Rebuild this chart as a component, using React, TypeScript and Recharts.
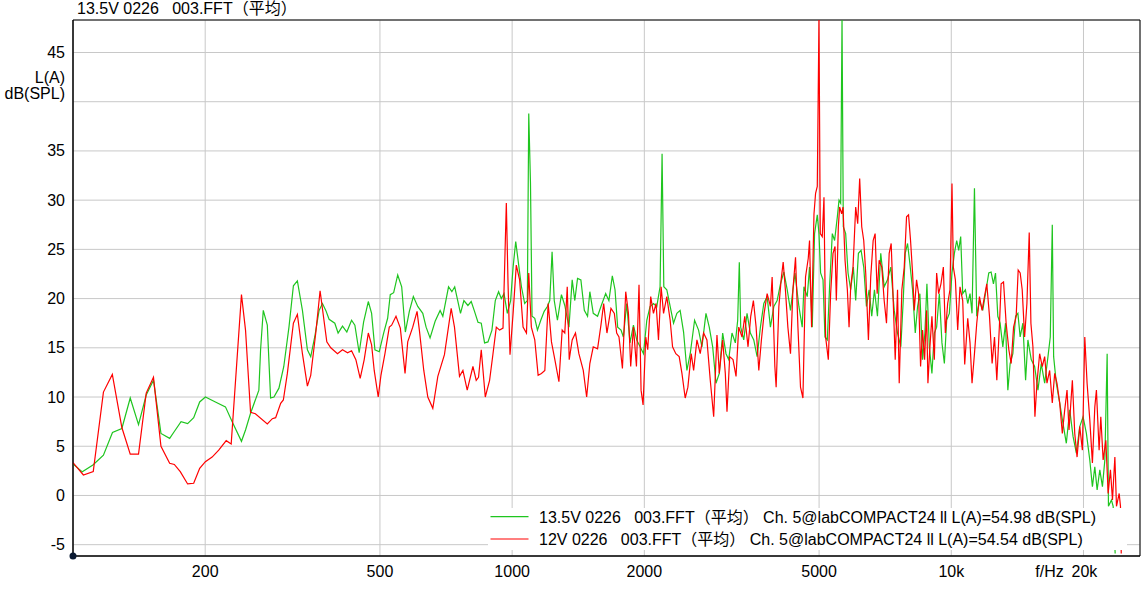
import { CartesianGrid, Line, LineChart, ReferenceArea, ReferenceDot, XAxis, YAxis } from "recharts";

const FONT = '"Liberation Sans", Arial, "Noto Sans CJK SC", sans-serif';

const title = "13.5V 0226   003.FFT（平均）";
const seriesNames = [
  "13.5V 0226   003.FFT（平均） Ch. 5@labCOMPACT24 ll L(A)=54.98 dB(SPL)",
  "12V 0226   003.FFT（平均） Ch. 5@labCOMPACT24 ll L(A)=54.54 dB(SPL)",
];
const seriesColors = ["#1fc51f", "#ff0000"];

const xTicks = [200, 500, 1000, 2000, 5000, 10000, 20000];
const yTicks = [-5, 0, 5, 10, 15, 20, 25, 30, 35, 40, 45];

// 13.5V trace
const greenHz = [
  100, 105, 111, 117.3, 123, 129.2, 135, 141, 146.8, 152.5, 158.6, 166, 170.1, 176.2, 182.4, 188.3, 194.3, 200.2, 211, 222.4,
  230.4, 241.9, 247.1, 253.7, 265, 267.4, 271.2, 277, 281.8, 286.8, 294.4, 302, 310.3, 317.6, 324.3, 333, 341.8, 347.8, 355.2, 363.4,
  369.9, 376.4, 383, 394.6, 401.5, 410.9, 420.3, 430.9, 438.4, 448.4, 458.9, 470.4, 478.6, 487, 498.2, 509.8, 520.6, 527.8, 537.3, 548.8,
  560.4, 571.2, 583.3, 595.7, 609.6, 625.9, 636.9, 650.3, 667.8, 685.4, 695.3, 716.4, 729, 740, 762.8, 776.5, 793, 806.9, 821, 836,
  850.5, 865.4, 881, 899.5, 915.5, 931.4, 944.8, 958.3, 975.1, 992.2, 1005, 1019, 1035, 1050, 1068, 1083, 1091, 1101, 1110, 1126,
  1142, 1162, 1183, 1203, 1218, 1233, 1247, 1268, 1295, 1318, 1347, 1370, 1389, 1409, 1434, 1460, 1485, 1503, 1530, 1565,
  1599, 1633, 1661, 1691, 1715, 1739, 1770, 1792, 1823, 1855, 1889, 1922, 1956, 1991, 2026, 2061, 2098, 2135, 2172, 2195,
  2215, 2250, 2290, 2331, 2372, 2413, 2457, 2500, 2544, 2603, 2658, 2705, 2763, 2811, 2862, 2912, 2963, 3016, 3069, 3113,
  3167, 3223, 3263, 3291, 3315, 3368, 3427, 3487, 3550, 3613, 3676, 3742, 3808, 3874, 3944, 4013, 4084, 4157, 4230, 4304,
  4405, 4498, 4577, 4618, 4699, 4756, 4824, 4883, 4953, 4997, 5040, 5104, 5157, 5220, 5283, 5359, 5424, 5502, 5551, 5599,
  5639, 5677, 5748, 5820, 5901, 5984, 6058, 6145, 6232, 6319, 6409, 6500, 6590, 6684, 6790, 6909, 7034, 7157, 7283, 7414,
  7544, 7676, 7773, 7855, 7951, 8047, 8163, 8279, 8380, 8482, 8603, 8708, 8801, 8912, 9035, 9150, 9261, 9393, 9523, 9644,
  9761, 9900, 10037, 10164, 10288, 10397, 10506, 10618, 10769, 10901, 11033, 11150, 11292, 11429, 11592, 11795, 12002, 12173, 12322, 12475,
  12610, 12764, 12918, 13104, 13291, 13453, 13616, 13811, 14009, 14180, 14351, 14557, 14765, 14945, 15207, 15481, 15752, 16028, 16317, 16603,
  16804, 16983, 17104, 17344, 17656, 17966, 18280, 18609, 18936, 19268, 19614, 19958, 20308, 20673, 20959, 21225, 21484, 21789, 22091, 22371,
  22644, 22799, 23162, 23369, 23615,
];
const greenDb = [
  3.2, 2.4, 3.1, 4.1, 6.4, 6.8, 9.9, 7.2, 10.2, 11.7, 6.3, 5.8, 6.5, 7.5, 7.3, 7.9, 9.5, 10.0, 9.5, 9.0,
  7.5, 5.5, 6.65, 8.35, 10.7, 14.8, 18.8, 17.3, 9.9, 10.0, 10.9, 13.1, 17.1, 21.3, 21.8, 18.8, 14.8, 14.1, 16.1, 18.8,
  19.5, 18.8, 17.9, 17.5, 16.5, 17.2, 16.6, 17.8, 17.3, 14.5, 17.6, 19.7, 18.5, 14.8, 14.6, 16.5, 18.0, 20.4, 20.6, 22.4,
  21.2, 16.6, 18.7, 20.2, 19.2, 18.5, 17.1, 16.0, 17.7, 18.8, 18.2, 21.2, 20.7, 21.2, 18.5, 19.8, 19.3, 19.7, 18.7, 17.6,
  17.5, 15.5, 15.6, 16.8, 19.8, 20.7, 20.0, 20.5, 18.5, 19.8, 23.2, 25.8, 23.4, 21.2, 19.5, 19.8, 38.8, 31.7, 18.2, 18.0,
  16.8, 17.8, 18.7, 19.2, 19.8, 24.75, 19.8, 17.8, 20.4, 19.3, 17.1, 21.9, 19.8, 22.05, 21.9, 18.8, 18.2, 20.7, 18.5, 18.2,
  19.4, 20.5, 19.8, 22.3, 20.9, 17.1, 16.8, 16.1, 19.5, 15.5, 17.3, 15.8, 15.1, 14.4, 17.8, 19.2, 19.5, 19.2, 21.2, 34.7,
  21.2, 20.9, 19.2, 17.5, 18.5, 18.8, 16.6, 12.7, 14.4, 17.8, 16.8, 15.1, 18.5, 17.1, 15.1, 11.4, 12.4, 16.5, 14.4, 13.8,
  16.5, 15.5, 17.8, 23.7, 17.1, 15.8, 18.5, 16.5, 15.8, 14.1, 17.1, 19.5, 20.2, 17.1, 19.2, 19.8, 21.5, 22.7, 20.9, 18.8,
  22.6, 19.2, 17.1, 21.2, 20.2, 23.2, 17.1, 26.6, 28.5, 26.6, 22.6, 21.9, 16.1, 15.8, 21.2, 26.6, 25.9, 28.3, 30.0, 29.7,
  48.5, 27.3, 26.6, 22.6, 20.9, 23.2, 19.8, 24.6, 24.9, 23.2, 19.2, 20.9, 18.2, 20.9, 18.2, 24.6, 21.2, 21.9, 23.2, 18.8,
  16.5, 15.1, 19.8, 24.6, 25.6, 23.6, 20.9, 16.5, 19.2, 20.5, 13.8, 16.5, 21.5, 15.1, 12.4, 16.5, 17.1, 20.5, 15.5, 13.4,
  17.8, 18.5, 22.6, 24.6, 25.9, 24.9, 26.3, 20.5, 20.9, 19.5, 20.5, 18.5, 31.2, 18.2, 19.8, 18.8, 20.9, 22.6, 22.7, 21.5,
  22.6, 18.2, 17.5, 15.1, 17.5, 10.7, 13.4, 14.4, 18.2, 18.5, 16.1, 17.5, 11.7, 15.8, 13.8, 13.1, 10.7, 13.4, 11.4, 14.1,
  16.1, 27.5, 14.1, 11.4, 9.4, 7.3, 5.3, 8.7, 6.0, 4.3, 7.0, 8.0, 6.3, 3.6, 0.9, 2.9, 0.56, 2.6, 0.9, 3.6,
  14.4, -1.1, -0.46, -1.1, -5.9,
];

// 12V trace
const redHz = [
  100, 105.6, 111.2, 117.3, 122.9, 129.2, 135, 141, 146.8, 152.5, 158.6, 166, 170.1, 175.5, 182.4, 188.3, 194.3, 200.2, 207.4, 214.7,
  223.3, 229.2, 241.9, 247.1, 253.7, 260.2, 277, 284.4, 289.4, 297.1, 301.3, 307.7, 317.6, 324.3, 333, 341.8, 347.8, 357.1, 365.3, 378.4,
  386.4, 400.2, 410.9, 421.9, 430.9, 440.7, 450.8, 460.4, 470.4, 478.6, 485.2, 495.5, 502.6, 513.3, 525.1, 531.6, 543.9, 556.4, 570.3, 578.4,
  593.8, 607.4, 614.8, 629.2, 642.6, 659.7, 677.3, 701.2, 726.4, 739.1, 758.8, 772.5, 790.1, 814.2, 828.4, 838.4, 850.5, 868.6, 888.5, 904.5,
  920.3, 936.5, 953.3, 970, 978.7, 988.9, 1005, 1022, 1040, 1059, 1078, 1091, 1106, 1126, 1146, 1166, 1187, 1208, 1229, 1251,
  1278, 1300, 1318, 1335, 1349, 1370, 1394, 1419, 1452, 1478, 1503, 1530, 1565, 1593, 1616, 1644, 1679, 1709, 1730, 1751,
  1783, 1814, 1840, 1862, 1889, 1919, 1945, 1966, 1987, 2015, 2036, 2068, 2098, 2127, 2154, 2184, 2212, 2250, 2290, 2319,
  2359, 2401, 2436, 2478, 2513, 2557, 2590, 2635, 2681, 2729, 2777, 2826, 2877, 2927, 2963, 3016, 3058, 3085, 3129, 3184,
  3235, 3281, 3338, 3386, 3445, 3494, 3543, 3594, 3645, 3695, 3748, 3808, 3874, 3909, 3965, 3992, 4049, 4098, 4142, 4192,
  4245, 4304, 4359, 4419, 4475, 4536, 4594, 4657, 4724, 4756, 4807, 4868, 4909, 4953, 4997, 5031, 5084, 5130, 5174, 5248,
  5312, 5379, 5436, 5473, 5531, 5569, 5629, 5668, 5729, 5799, 5851, 5901, 5974, 6058, 6122, 6186, 6253, 6319, 6385, 6476,
  6555, 6639, 6708, 6780, 6851, 6946, 7034, 7120, 7221, 7297, 7375, 7453, 7544, 7611, 7717, 7814, 7909, 7993, 8077, 8163,
  8236, 8336, 8424, 8513, 8603, 8694, 8787, 8847, 8941, 9035, 9150, 9261, 9359, 9473, 9593, 9694, 9813, 9931, 10037, 10109,
  10218, 10342, 10467, 10618, 10729, 10901, 11033, 11150, 11292, 11429, 11592, 11753, 11901, 12046, 12218, 12388, 12544, 12697, 12878, 12987,
  13152, 13333, 13524, 13689, 13863, 14053, 14202, 14351, 14505, 14688, 14867, 15049, 15182, 15343, 15505, 15670, 15893, 16114, 16317, 16516,
  16751, 16983, 17198, 17408, 17656, 17901, 18127, 18348, 18541, 18868, 19106, 19339, 19614, 19887, 20138, 20383, 20673, 20959, 21225, 21405,
  21710, 21903, 22172, 22488, 22763, 23038, 23286, 23579, 23779, 24118, 24282, 24380,
];
const redDb = [
  3.33, 2.08, 2.42, 10.5, 12.3, 6.9, 4.2, 4.2, 10.4, 12.0, 5.0, 3.27, 3.15, 2.42, 1.17, 1.24, 2.76, 3.43, 3.9, 4.6,
  5.57, 5.23, 20.4, 16.8, 8.45, 8.3, 7.26, 7.8, 7.9, 9.36, 9.7, 12.4, 17.5, 18.4, 14.4, 11.1, 12.2, 16.5, 20.8, 15.6,
  15.0, 14.4, 14.8, 14.5, 14.7, 13.8, 11.9, 13.8, 16.5, 15.3, 12.7, 10.0, 12.2, 14.4, 17.1, 17.3, 18.2, 17.0, 12.4, 15.6,
  17.1, 18.7, 16.8, 12.7, 10.0, 8.85, 12.1, 14.3, 19.0, 17.1, 12.1, 12.7, 10.7, 13.1, 11.7, 12.0, 14.8, 10.0, 11.7, 14.4,
  17.1, 16.8, 17.0, 29.7, 21.5, 14.3, 18.5, 23.4, 21.9, 17.1, 16.5, 22.6, 17.1, 15.8, 12.2, 12.4, 12.7, 19.5, 15.6, 13.8,
  11.55, 16.8, 16.5, 21.2, 13.8, 15.8, 16.5, 14.4, 12.7, 10.0, 13.4, 15.1, 14.9, 17.3, 19.5, 16.5, 19.0, 18.5, 16.5, 16.1,
  12.9, 20.7, 18.5, 13.1, 17.1, 13.1, 21.4, 10.7, 9.2, 16.1, 14.8, 20.2, 18.5, 19.5, 15.8, 21.2, 18.5, 20.2, 17.8, 15.1,
  14.4, 14.1, 12.4, 9.9, 11.0, 14.4, 12.7, 15.8, 14.4, 16.5, 15.8, 11.7, 8.0, 16.3, 12.4, 15.8, 12.4, 8.5, 14.1, 13.8,
  12.1, 17.1, 16.1, 18.2, 15.1, 18.2, 19.8, 17.1, 12.7, 15.8, 18.5, 20.5, 19.2, 22.2, 13.1, 11.0, 19.2, 21.9, 23.7, 20.8,
  17.1, 14.4, 20.9, 24.2, 17.1, 11.0, 9.9, 22.2, 24.1, 25.9, 17.1, 28.6, 30.7, 31.4, 48.5, 26.6, 26.3, 30.3, 16.1, 13.8,
  20.5, 24.6, 25.3, 19.8, 27.3, 29.3, 28.6, 29.3, 23.9, 20.9, 17.1, 21.2, 23.2, 29.3, 27.6, 32.2, 27.3, 25.9, 22.6, 15.8,
  22.2, 25.9, 26.6, 20.5, 23.9, 23.2, 19.8, 17.5, 24.6, 25.6, 19.8, 13.8, 20.9, 11.4, 20.9, 23.2, 28.3, 28.5, 25.9, 22.6,
  18.8, 21.9, 20.5, 13.1, 16.8, 13.8, 18.8, 11.4, 15.1, 18.2, 13.8, 22.6, 20.5, 21.5, 23.2, 16.5, 19.5, 20.9, 31.7, 23.2,
  21.9, 16.8, 21.2, 19.8, 13.3, 18.0, 15.5, 11.4, 14.4, 17.5, 20.2, 18.8, 20.2, 21.5, 18.2, 13.4, 16.1, 11.7, 17.5, 21.5,
  21.7, 17.5, 14.8, 13.4, 17.1, 18.2, 22.9, 22.6, 20.9, 16.1, 19.5, 26.7, 17.5, 15.1, 8.0, 11.4, 14.4, 13.1, 14.1, 11.4,
  12.7, 9.4, 12.4, 11.4, 9.4, 6.3, 8.7, 10.7, 6.65, 11.7, 6.3, 3.9, 7.0, 4.6, 16.1, 11.4, 7.7, 3.3, 9.0, 10.7,
  4.6, 8.0, 3.6, 5.6, 0.2, 2.6, -0.46, 3.9, -1.1, 0.2, -1.1, -5.9,
];

const greenData = greenHz.map((hz, i) => ({ hz, db: greenDb[i] }));
const redData = redHz.map((hz, i) => ({ hz, db: redDb[i] }));

const X_MIN = 100;
const X_MAX = 26900;
const Y_MIN = -6.15;
const Y_MAX = 48.3;

function XTick({ x, y, payload }: any) {
  const v = payload.value as number;
  const label = v >= 10000 ? `${v / 1000}k` : `${v}`;
  return (
    <g fontFamily={FONT} fontSize={16} fill="#000">
      {v === 20000 && (
        <text x={x - 34} y={y + 21} textAnchor="middle">
          f/Hz
        </text>
      )}
      <text x={x + (v === 20000 ? 1 : 0)} y={y + 21} textAnchor="middle">
        {label}
      </text>
    </g>
  );
}

function YTick({ x, y, payload }: any) {
  if (payload.value === 40) {
    return (
      <g fontFamily={FONT} fontSize={16} fill="#000">
        <text x={x - 8} y={y - 19} textAnchor="end">L(A)</text>
        <text x={x - 8} y={y - 3} textAnchor="end">dB(SPL)</text>
      </g>
    );
  }
  return (
    <text x={x - 8} y={y + 5.5} textAnchor="end" fontFamily={FONT} fontSize={16} fill="#000">
      {payload.value}
    </text>
  );
}

export default function App() {
  return (
    <div style={{ position: "absolute", left: 0, top: 0, width: 1142, height: 590, background: "#fff" }}>
      <div
        style={{
          position: "absolute",
          left: 77,
          top: 0,
          fontFamily: FONT,
          fontSize: 16,
          lineHeight: "18px",
          whiteSpace: "pre",
          color: "#000",
        }}
      >
        {title}
      </div>
      <LineChart width={1142} height={590} margin={{ top: 20, right: 2, bottom: 4, left: 0 }}>
        <CartesianGrid stroke="#c8c8c8" strokeWidth={1} />
        <XAxis
          dataKey="hz"
          type="number"
          scale="log"
          domain={[X_MIN, X_MAX]}
          ticks={xTicks}
          allowDataOverflow
          height={30}
          axisLine={{ stroke: "#000" }}
          tickLine={false}
          tickSize={0}
          tickMargin={0}
          tick={<XTick />}
          interval={0}
        />
        <YAxis
          type="number"
          domain={[Y_MIN, Y_MAX]}
          ticks={yTicks}
          allowDataOverflow
          width={73}
          axisLine={{ stroke: "#000" }}
          tickLine={false}
          tickSize={0}
          tickMargin={0}
          tick={<YTick />}
          interval={0}
        />
        <Line
          data={greenData}
          dataKey="db"
          type="linear"
          stroke={seriesColors[0]}
          strokeWidth={1.2}
          dot={false}
          isAnimationActive={false}
        />
        <Line
          data={redData}
          dataKey="db"
          type="linear"
          stroke={seriesColors[1]}
          strokeWidth={1.2}
          dot={false}
          isAnimationActive={false}
        />
        <ReferenceArea
          x1={X_MIN}
          x2={X_MAX}
          y1={Y_MIN}
          y2={Y_MAX}
          fill="none"
          stroke="#000"
          strokeWidth={1}
          ifOverflow="visible"
        />
        <ReferenceDot x={X_MIN} y={Y_MIN} r={3.5} fill="#0b1a33" stroke="none" ifOverflow="visible" />
      </LineChart>
      <div style={{ position: "absolute", left: 488, top: 508, width: 639, height: 42, background: "#fff" }}>
        <svg width={639} height={42} style={{ display: "block" }}>
          {seriesNames.map((name, i) => (
            <g key={name}>
              <line x1={2.5} x2={40.5} y1={8.7 + i * 22.3} y2={8.7 + i * 22.3} stroke={seriesColors[i]} strokeWidth={1.2} />
              <text
                x={51}
                y={14.7 + i * 22.3}
                fontFamily={FONT}
                fontSize={16}
                fill="#000"
                style={{ whiteSpace: "pre" }}
              >
                {name}
              </text>
            </g>
          ))}
        </svg>
      </div>
    </div>
  );
}
